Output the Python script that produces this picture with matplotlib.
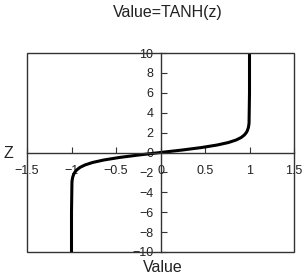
import matplotlib
matplotlib.use("Agg")
import matplotlib.pyplot as plt
from matplotlib.patches import Rectangle

# z values and the read-off TANH(z) values
z = [-10, -6, -3, -2.8, -2.5, -2.2, -2, -1.75, -1.5, -1.25, -1, -0.75, -0.5,
     -0.25, 0, 0.25, 0.5, 0.75, 1, 1.25, 1.5, 1.75, 2, 2.2, 2.5, 2.8, 3, 6, 10]
value = [-1.0, -1.0, -0.995, -0.993, -0.987, -0.976, -0.964, -0.941, -0.905,
         -0.848, -0.762, -0.635, -0.462, -0.245, 0.0, 0.245, 0.462, 0.635,
         0.762, 0.848, 0.905, 0.941, 0.964, 0.976, 0.987, 0.993, 0.995, 1.0, 1.0]

x_ticks = [-1.5, -1, -0.5, 0, 0.5, 1, 1.5]
x_labels = ["\u22121.5", "\u22121", "\u22120.5", "0", "0.5", "1", "1.5"]
y_ticks = [-10, -8, -6, -4, -2, 0, 2, 4, 6, 8, 10]
y_labels = [("\u2212" + str(-t)) if t < 0 else str(t) for t in y_ticks]

plt.rcParams["font.family"] = ["Liberation Sans", "DejaVu Sans"]

fig = plt.figure(figsize=(3.02, 2.76), dpi=100)
ax = fig.add_axes([27 / 302, 24 / 276, 267 / 302, 199 / 276])

ax.plot(value, z, color="black", linewidth=2.2, solid_joinstyle="round")

ax.set_xlim(-1.5, 1.5)
ax.set_ylim(-10, 10)

# axes cross at the origin, frame drawn as a box
ax.spines["left"].set_position(("data", 0))
ax.spines["bottom"].set_position(("data", 0))
ax.spines["top"].set_visible(False)
ax.spines["right"].set_visible(False)
for s in ["left", "bottom"]:
    ax.spines[s].set_linewidth(1.0)
    ax.spines[s].set_color("#333333")
ax.add_patch(Rectangle((0, 0), 1, 1, transform=ax.transAxes, fill=False,
                       edgecolor="#333333", linewidth=1.0, zorder=5, clip_on=False))

ax.set_xticks(x_ticks)
ax.set_xticklabels(x_labels)
ax.set_yticks(y_ticks)
ax.set_yticklabels(y_labels)
ax.tick_params(axis="both", direction="in", length=4, width=0.8,
               labelsize=9, colors="#333333", labelcolor="#222222")
ax.tick_params(axis="x", pad=9)
ax.tick_params(axis="y", pad=5)

fig.text(168 / 302, 1 - 13 / 276, "Value=TANH(z)", ha="center", va="center",
         fontsize=11.5, color="#222222")
fig.text(8 / 302, 1 - 153 / 276, "Z", ha="center", va="center",
         fontsize=11.5, color="#222222")
fig.text(163 / 302, 1 - 267 / 276, "Value", ha="center", va="center",
         fontsize=11.5, color="#222222")

fig.savefig("out.png", dpi=100)
